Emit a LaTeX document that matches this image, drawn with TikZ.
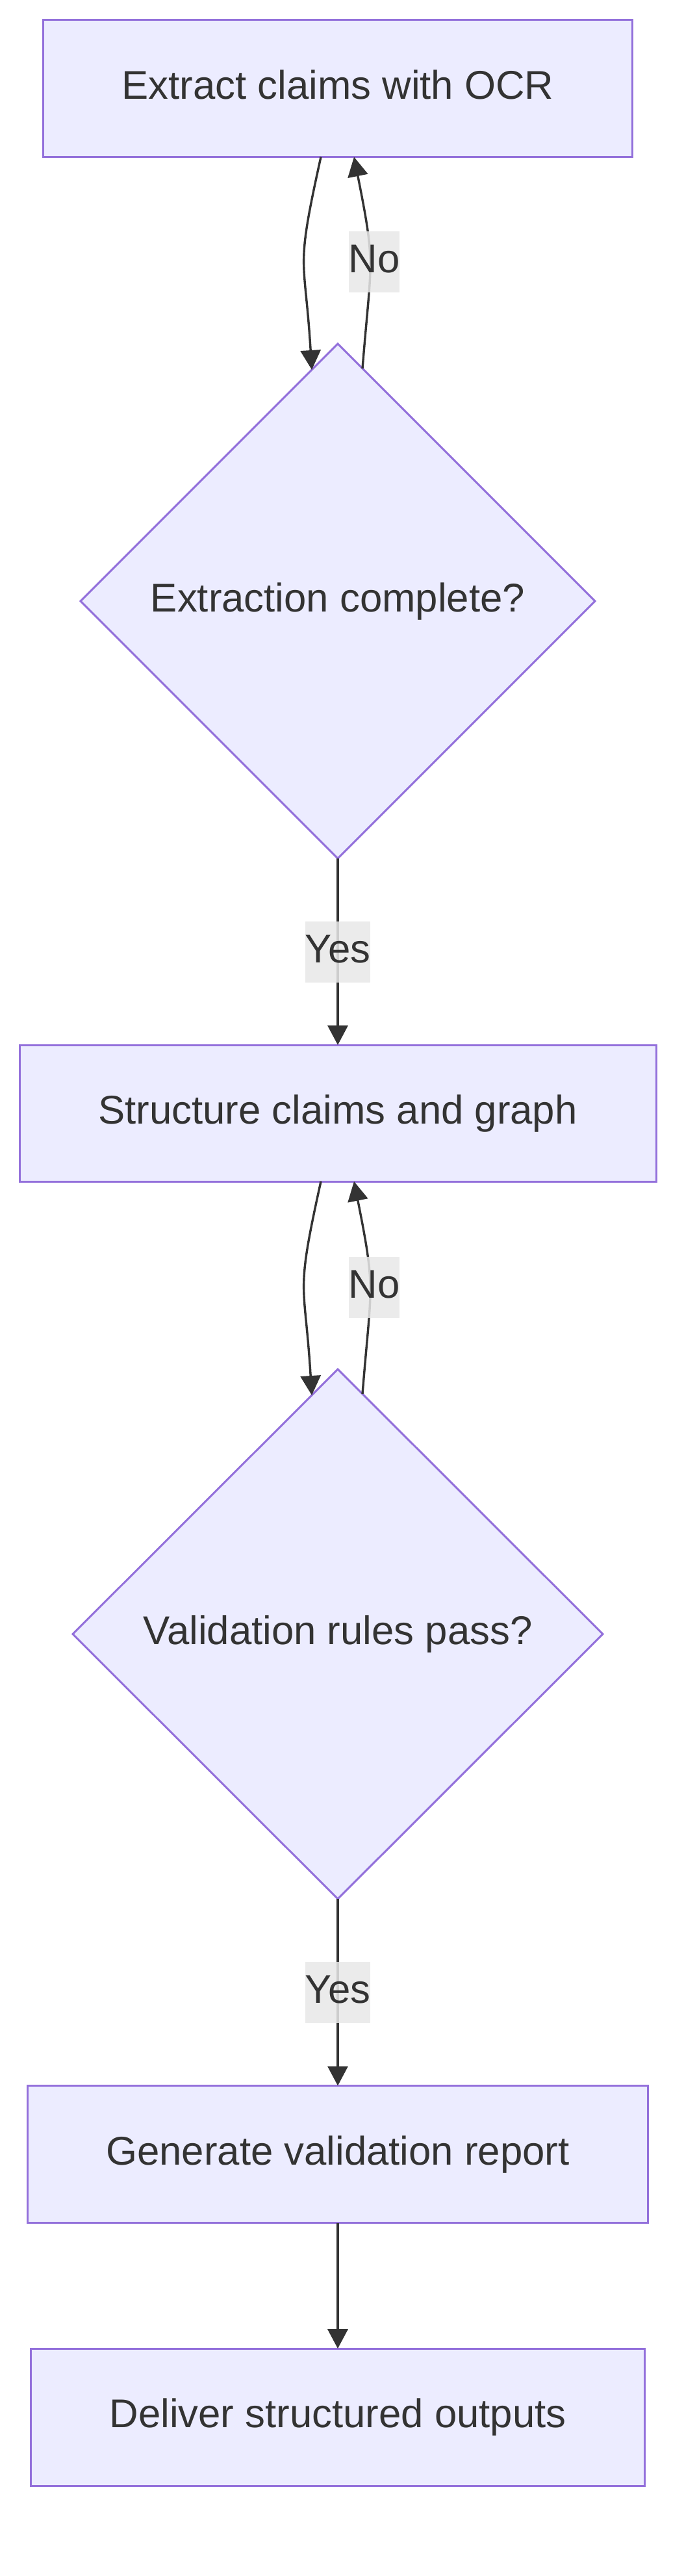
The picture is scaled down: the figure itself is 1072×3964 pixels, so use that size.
\documentclass[tikz,border=0pt]{standalone}
\usepackage{fontspec}
\setmainfont{Liberation Sans}
\usetikzlibrary{shapes.geometric,arrows.meta}
\definecolor{nodefill}{HTML}{ECECFF}
\definecolor{nodeline}{HTML}{9370DB}
\definecolor{ink}{HTML}{333333}
\definecolor{lblbg}{HTML}{E8E8E8}
\begin{document}
\begin{tikzpicture}[x=1pt,y=-1pt,
  every node/.style={font=\fontsize{61.7}{74}\selectfont, text=ink},
  procbox/.style={draw=nodeline, fill=nodefill, line width=3pt, rectangle, inner sep=0pt, outer sep=0pt, text height=44pt, text depth=12pt, minimum height=211pt},
  decision/.style={draw=nodeline, fill=nodefill, line width=3pt, diamond, inner sep=0pt, outer sep=0pt, text height=44pt, text depth=12pt},
  edgelbl/.style={fill=lblbg, fill opacity=0.85, text opacity=1, inner sep=0pt, text height=63pt, text depth=30.5pt},
  flow/.style={draw=ink, line width=3.4pt, -{Triangle[length=30pt,width=31pt]}}
]
\useasboundingbox (0,0) rectangle (1072,3964);

\node[procbox, minimum width=907pt] (b1) at (520,136) {Extract claims with OCR};
\node[decision, minimum width=792pt, minimum height=792pt] (d1) at (520,925) {Extraction complete?};
\node[procbox, minimum width=980pt, minimum height=210pt] (b2) at (520,1713) {Structure claims and graph};
\node[decision, minimum width=816pt, minimum height=815pt] (d2) at (520,2514.5) {Validation rules pass?};
\node[procbox, minimum width=955pt] (b3) at (520,3315) {Generate validation report};
\node[procbox, minimum width=945pt] (b4) at (520,3719.5) {Deliver structured outputs};

% loop 1
\draw[flow] ([xshift=-26pt]b1.south) .. controls +(-40,180) and +(-11,-180) .. ([xshift=-40pt,yshift=-40pt]d1.north);
\draw[flow] ([xshift=38pt,yshift=-38pt]d1.north) .. controls +(13.6,-170) and +(34,170) .. ([xshift=25pt]b1.south);
\node[edgelbl] (n1) at (576,403) {No};

\draw[flow] (d1.south) -- (b2.north);
\node[edgelbl] (y1) at (520,1465) {Yes};

% loop 2
\draw[flow] ([xshift=-26pt]b2.south) .. controls +(-40,180) and +(-11,-180) .. ([xshift=-40pt,yshift=-40pt]d2.north);
\draw[flow] ([xshift=38pt,yshift=-38pt]d2.north) .. controls +(13.6,-170) and +(34,170) .. ([xshift=25pt]b2.south);
\node[edgelbl] (n2) at (576,1981) {No};

\draw[flow] (d2.south) -- (b3.north);
\node[edgelbl] (y2) at (520,3066) {Yes};

\draw[flow] (b3.south) -- (b4.north);
\end{tikzpicture}
\end{document}
